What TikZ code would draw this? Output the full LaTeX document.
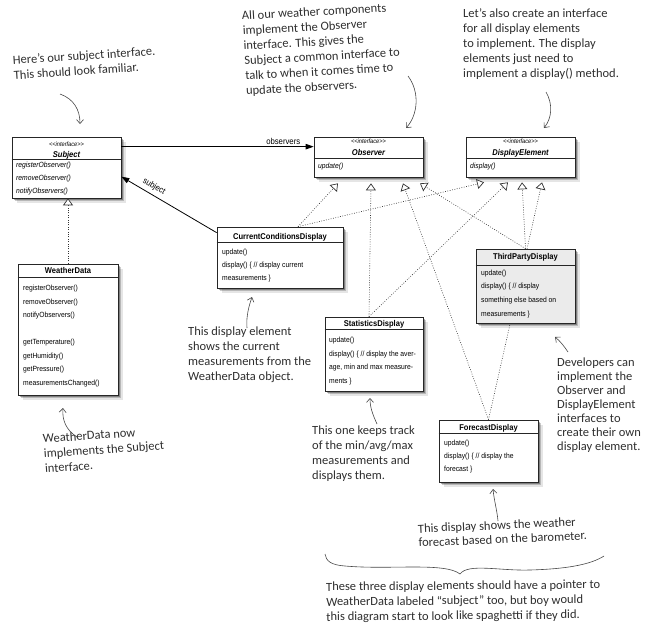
\documentclass[tikz,border=0pt]{standalone}
\usepackage{fontspec}
\setmainfont{Liberation Sans}
\newfontfamily\umlf{Liberation Sans}[FakeStretch=0.9]
\newfontfamily\handf{Carlito}
\usetikzlibrary{arrows.meta,shadows}
\pgfdeclarelayer{background}
\pgfsetlayers{background,main}
\newcommand\rowsl[2]{\vtop{\baselineskip=#1pt\relax\lineskiplimit=-20pt\lineskip=0pt\halign{##\hfil\cr#2\crcr}}}
\begin{document}
\begin{tikzpicture}[x=1pt,y=-1pt,
  shadowed/.style={drop shadow={shadow xshift=1.5pt,shadow yshift=-1.5pt,opacity=.3,fill=black},
                   drop shadow={shadow xshift=3pt,shadow yshift=-3pt,opacity=.2,fill=black},
                   drop shadow={shadow xshift=4.5pt,shadow yshift=-4.5pt,opacity=.1,fill=black}},
  cls/.style={shadowed, draw=black!85, line width=0.7pt, fill=white, inner sep=0pt},
  divl/.style={draw=black!85, line width=0.6pt},
  hd/.style={font=\umlf\bfseries\fontsize{8.4}{9}\selectfont, inner sep=0pt, anchor=base},
  st/.style={font=\umlf\itshape\fontsize{6.3}{7}\selectfont, inner sep=0pt, anchor=base},
  mt/.style={font=\umlf\fontsize{7.5}{9}\selectfont, inner sep=0pt, anchor=base west},
  mti/.style={mt, font=\umlf\itshape\fontsize{7.5}{9}\selectfont},
  lab/.style={font=\umlf\fontsize{8.6}{9}\selectfont, inner sep=0pt},
  note/.style={font=\handf\fontsize{12.5}{15}\selectfont, text=black!82, inner sep=0pt, anchor=base west},
  real/.style={draw=black!80, line width=0.6pt, dash pattern=on 0.8pt off 1.6pt,
               -{Triangle[length=7pt,width=10pt,fill=white,line width=0.7pt]}},
  assoc/.style={draw=black, line width=0.8pt, -{Triangle[length=8pt,width=5.5pt]}},
  hand/.style={draw=black!72, line width=0.6pt, -{Straight Barb[length=4pt,width=7pt]}},
  brace/.style={draw=black!72, line width=0.6pt},
]
\useasboundingbox (0,0) rectangle (652,634);

% ---------- classes ----------
\node[cls, minimum width=109pt, minimum height=61pt] (subject) at (66.5,167.5) {};
\node[cls, minimum width=109pt, minimum height=40pt] (observer) at (368.5,157) {};
\node[cls, minimum width=109pt, minimum height=40pt] (display) at (520.5,157) {};
\node[cls, minimum width=100pt, minimum height=131pt] (weather) at (68,329.5) {};
\node[cls, minimum width=126pt, minimum height=61pt] (ccd) at (280,257.5) {};
\node[cls, fill=black!8, minimum width=99pt, minimum height=74pt] (tpd) at (525.5,286) {};
\node[cls, minimum width=98pt, minimum height=74pt] (stats) at (374,354) {};
\node[cls, minimum width=99pt, minimum height=62pt] (forecast) at (488.5,451) {};

\foreach \n/\y in {subject/159, observer/158, display/158, weather/277, ccd/242, tpd/265, stats/329, forecast/433}
  \draw[divl] (\n.west |- 0,\y) -- (\n.east |- 0,\y);

% Subject
\node[st] (subjS) at (66.5,146.5) {<\kern0pt<interface>\kern0pt>};
\node[hd] (subjN) at (66.5,157) {\itshape Subject};
\node[mti] (subjM) at (16,167.5) {\rowsl{13}{registerObserver()\cr removeObserver()\cr notifyObservers()}};
% Observer
\node[st] (obsS) at (368.5,143.5) {<\kern0pt<interface>\kern0pt>};
\node[hd] (obsN) at (368.5,155.5) {\itshape Observer};
\node[mti] (obsM) at (318,168.5) {update()};
% DisplayElement
\node[st] (deS) at (520.5,143.5) {<\kern0pt<interface>\kern0pt>};
\node[hd] (deN) at (520.5,155) {\itshape DisplayElement};
\node[mti] (deM) at (470,168) {display()};
% WeatherData
\node[hd] (wdN) at (68,273.5) {WeatherData};
\node[mt] (wdM) at (23,290.5) {\rowsl{13.5}{registerObserver()\cr removeObserver()\cr notifyObservers()\cr \cr
  getTemperature()\cr getHumidity()\cr getPressure()\cr measurementsChanged()}};
% CurrentConditionsDisplay
\node[hd] (ccdN) at (280,239) {CurrentConditionsDisplay};
\node[mt] (ccdM) at (222,254.5) {\rowsl{13}{update()\cr display() \{ // display current\cr measurements \}}};
% ThirdPartyDisplay
\node[hd] (tpdN) at (525.5,259.5) {ThirdPartyDisplay};
\node[mt] (tpdM) at (481,275) {\rowsl{13.8}{update()\cr display() \{ // display\cr something else based on\cr measurements \}}};
% StatisticsDisplay
\node[hd] (stN) at (374,326) {StatisticsDisplay};
\node[mt] (stM) at (329,342.5) {\rowsl{13.5}{update()\cr display() \{ // display the aver-\cr age, min and max measure-\cr ments \}}};
% ForecastDisplay
\node[hd] (fcN) at (488.5,430) {ForecastDisplay};
\node[mt] (fcM) at (444,445.5) {\rowsl{13.2}{update()\cr display() \{ // display the\cr forecast \}}};

% ---------- tips of the realisations ----------
\coordinate (o1) at ([xshift=-30.5pt,yshift=-6pt]observer.south);
\coordinate (o2) at ([xshift=2.5pt,yshift=-6pt]observer.south);
\coordinate (o3) at ([xshift=34.5pt,yshift=-6pt]observer.south);
\coordinate (o4) at ([xshift=51.5pt,yshift=-6pt]observer.south);
\coordinate (d1) at ([xshift=-36.5pt,yshift=-5pt]display.south);
\coordinate (d2) at ([xshift=-12.5pt,yshift=-5pt]display.south);
\coordinate (d3) at ([xshift=1.5pt,yshift=-5pt]display.south);
\coordinate (d4) at ([xshift=21.5pt,yshift=-5pt]display.south);

\draw[real] (weather.north) -- (weather.north |- subject.south);
\draw[real] ([xshift=18pt]ccd.north) -- (o1);
\draw[real] ([xshift=18pt]ccd.north) -- (d1);
\draw[real] ([xshift=-5pt]stats.north) -- (o2);
\draw[real] ([xshift=-5pt]stats.north) -- (d2);
\draw[real] (tpd.north) -- (o4);
\draw[real] (tpd.north) -- (d3);
\draw[real] (forecast.north) -- (o3);
\begin{pgfonlayer}{background}
\draw[real] (forecast.north) -- (d4);
\end{pgfonlayer}

% ---------- associations ----------
\draw[assoc] ([yshift=-10pt]subject.north east) -- ([yshift=-10pt]observer.north west)
  node[lab, pos=1, anchor=base east, xshift=-13pt, yshift=2pt] (obsLab) {observers};
\draw[assoc] ([yshift=-6pt]ccd.north west) -- ([yshift=-40pt]subject.north east)
  node[lab, pos=0.74, rotate=-30.3, xshift=4.5pt, yshift=8pt] (subLab) {subject};

% ---------- notes ----------
\node[note, rotate=3.7] (n1) at (13,64.5) {\rowsl{15}{Here’s our subject interface.\cr This should look familiar.}};
\node[note, rotate=3.2] (n2) at (242,20) {\rowsl{15}{All our weather components\cr implement the Observer\cr interface. This gives the\cr Subject a common interface to\cr talk to when it comes time to\cr update the observers.}};
\node[note] (n3) at (463,18) {\rowsl{15}{Let’s also create an interface\cr for all display elements\cr to implement. The display\cr elements just need to\cr implement a display() method.}};
\node[note] (n4) at (188,335) {\rowsl{15}{This display element\cr shows the current\cr measurements from the\cr WeatherData object.}};
\node[note, rotate=4] (n5) at (43,443) {\rowsl{15}{WeatherData now\cr implements the Subject\cr interface.}};
\node[note] (n6) at (312,434) {\rowsl{15}{This one keeps track\cr of the min/avg/max\cr measurements and\cr displays them.}};
\node[note] (n7) at (557,366) {\rowsl{14}{Developers can\cr implement the\cr Observer and\cr DisplayElement\cr interfaces to\cr create their own\cr display element.}};
\node[note, rotate=2.5] (n8) at (418,533) {\rowsl{14}{This display shows the weather\cr forecast based on the barometer.}};
\node[note, rotate=0.5] (n10) at (326,591) {\rowsl{15}{These three display elements should have a pointer to\cr WeatherData labeled “subject” too, but boy would\cr this diagram start to look like spaghetti if they did.}};

% ---------- note arrows ----------
\coordinate (a1s) at (60,94);   \coordinate (a1e) at (80,124);
\coordinate (a2s) at (408,76);  \coordinate (a2e) at (406,128);
\coordinate (a3s) at (546,92);  \coordinate (a3e) at (544,128);
\coordinate (a4s) at (247,328); \coordinate (a4e) at (252,297);
\coordinate (a5s) at (77,437);  \coordinate (a5e) at (63,408);
\coordinate (a6s) at (377,424); \coordinate (a6e) at (370,398);
\coordinate (a7s) at (568,352); \coordinate (a7e) at (555,337);
\coordinate (a8s) at (498,521); \coordinate (a8e) at (493,489);
\draw[hand] (a1s) .. controls (74,99) and (80,110) .. (a1e);
\draw[hand] (a2s) .. controls (420,92) and (418,115) .. (a2e);
\draw[hand] (a3s) .. controls (553,104) and (552,118) .. (a3e);
\draw[hand] (a4s) .. controls (246,316) and (249,306) .. (a4e);
\draw[hand] (a5s) .. controls (66,430) and (62,420) .. (a5e);
\draw[hand] (a6s) .. controls (373,415) and (370,408) .. (a6e);
\draw[hand] (a7s) .. controls (564,346) and (560,341) .. (a7e);
\draw[hand] (a8s) .. controls (497,510) and (494,500) .. (a8e);

% ---------- brace ----------
\draw[brace] (325,554) .. controls (326,561) and (331,565) .. (345,566)
  .. controls (390,570) and (445,562) .. (460,574)
  .. controls (468,563) and (500,571) .. (530,570)
  .. controls (565,569) and (590,565) .. (604,556);
\end{tikzpicture}
\end{document}
